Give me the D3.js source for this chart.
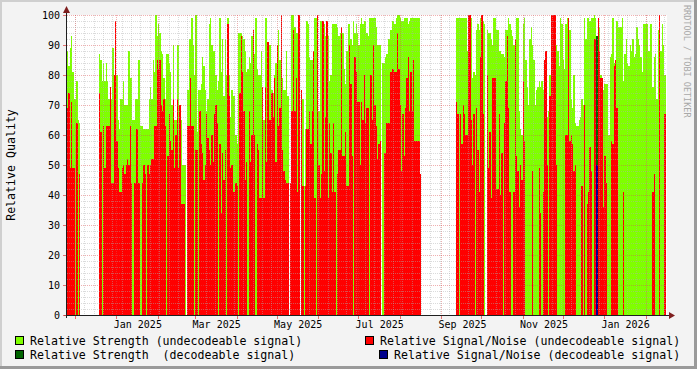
<!DOCTYPE html>
<html>
<head>
<meta charset="utf-8">
<script src="https://cdn.jsdelivr.net/npm/d3@7"></script>
<style>
  body { margin: 0; background: #f3f3f3; }
  svg { display: block; font-family: "DejaVu Sans Mono", monospace; }
</style>
</head>
<body>
<svg id="chart" width="697" height="369"></svg>
<script>
// one value per day, starting at startDay (null = no data)
const startDay = Date.UTC(2024, 10, 25);
const endDay = Date.UTC(2026, 1, 17);

const strength = [
  88, 83, 89, 93, 81, 72, 72, 78, 65, 64,
  null, null, null, null, null, null, null, null, null, null,
  null, null, null, null, 87, 85, 78, 84, 78, 84,
  78, 72, 70, 72, 89, 80, 80, 80, 65, 62,
  72, 72, 78, 70, 70, 70, 88, 79, 79, 65,
  65, 72, 72, 85, 85, 63, 63, 62, 62, 62,
  62, 72, 76, 72, 85, 81, 100, 93, 97, 94,
  88, 87, 79, 72, 87, 87, 84, 81, 70, 90,
  65, 65, 90, 90, 68, 65, 50, 50, 50, null,
  75, 92, 92, 99, 90, 80, 100, 61, 75, 75,
  77, 86, 83, 75, 68, 72, 97, 99, 90, 88,
  88, 80, 75, 78, 99, 81, 92, 73, 92, 80,
  99, 80, 66, 75, 73, 73, 60, 57, 94, 94,
  94, 93, 92, 88, 81, 82, 86, 84, 93, 93,
  87, 99, 82, 80, 80, 88, 76, 65, 99, 99,
  85, 90, 90, 75, 74, 80, 84, 84, 95, 85,
  80, 79, 75, 75, 88, 73, null, 44, 100, 100,
  96, 94, 94, 100, null, 72, 72, 43, 62, 98,
  97, 86, 85, 85, 85, 99, 99, 99, 68, 98,
  98, 97, 97, 93, 93, 93, 78, 80, 97, 97,
  97, 97, 96, 93, 94, 94, 94, 82, 77, 88,
  97, 97, 92, 90, 98, 94, 97, 94, 90, 97,
  99, 97, 98, 98, 94, 93, 99, 99, 99, 99,
  99, 96, 90, 90, 90, null, 84, 84, 86, 87,
  92, 92, 95, 98, 98, 97, 99, 100, 100, 99,
  98, 98, 99, 99, 99, 97, 98, 99, 99, 99,
  99, 99, 99, 99, 47, null, null, null, null, null,
  null, null, null, null, null, null, null, null, null, null,
  null, null, null, null, null, null, null, null, null, null,
  null, 99, 99, 99, 99, 99, 99, 99, 99, 88,
  99, 99, 99, 79, 81, 80, 95, 97, 95, 99,
  99, 98, 97, null, 95, 94, 94, 92, 90, 99,
  99, 95, 95, 88, 88, 87, 87, 86, 95, 95,
  99, 97, 95, 93, 90, 89, 99, 99, 68, 62,
  60, 97, 99, 85, 76, 70, 92, 96, 90, 85,
  70, 75, 76, 78, 76, 78, 75, 70, 72, 66,
  68, 80, 100, 100, 100, 100, 90, 88, 83, 99,
  97, 85, 82, 97, 99, 99, 95, 72, 69, 80,
  64, 63, 63, 65, 66, 72, 70, 99, 92, 99,
  99, 98, 99, 99, 100, 99, null, 97, 96, 80,
  78, 75, 77, 77, 77, 60, 86, 87, 99, 84,
  80, 98, 96, 96, 96, 99, 78, 87, 92, 84,
  83, 90, 88, 92, 86, 87, 96, 92, 90, 86,
  81, 97, 97, 97, 97, 88, 97, 97, 76, 86,
  87, 72, 95, 99, 88, 97, 90, 80
];

const signalNoise = [
  69, 74, 49, 71, 49, 49, 0, 64, 0, 47,
  null, null, null, null, null, null, null, null, null, null,
  null, null, null, null, 74, 61, 0, 63, 49, 63,
  63, 63, 76, 44, 44, 80, 98, 58, 49, 41,
  41, 49, 50, 47, 50, 52, 50, 63, 44, 0,
  44, 44, 62, 44, 44, 0, 44, 50, 47, 0,
  50, 47, 50, 52, 52, 63, 63, 85, 82, 85,
  70, 68, 72, 63, 0, 53, 67, 58, 55, 72,
  49, 60, 72, 49, 70, 37, 37, 37, 0, null,
  63, 63, 79, 63, 63, 0, 55, 55, 0, 68,
  57, 54, 45, 50, 67, 59, 55, 50, 60, 51,
  67, 70, 64, 0, 57, 34, 54, 45, 55, 0,
  97, 73, 49, 50, 41, 41, 44, 43, 0, 74,
  93, 81, 68, 45, 51, 0, 68, 51, 60, 95,
  60, 0, 57, 55, 39, 39, 76, 39, 76, 51,
  91, 65, 65, 74, 66, 79, 51, 90, 63, 69,
  100, 55, 48, 45, 44, 44, null, 44, 68, 95,
  68, 79, 41, 100, null, 75, 43, 0, 43, 62,
  62, 68, 57, 68, 88, 39, 0, 100, 50, 39,
  47, 98, 48, 66, 98, 39, 64, 54, 41, 64,
  41, 0, 47, 55, 55, 96, 53, 53, 61, 43,
  43, 90, 77, 53, 0, 86, 81, 71, 71, 50,
  71, 65, 80, 64, 69, 69, 0, 80, 65, 90,
  70, 63, 52, 57, 58, null, 0, 54, 54, 64,
  64, 64, 81, 82, 82, 81, 81, 94, 82, 70,
  48, 67, 53, 69, 79, 86, 68, 81, 68, 85,
  58, 58, 58, 58, 47, null, null, null, null, null,
  null, null, null, null, null, null, null, null, null, null,
  null, null, null, null, null, null, null, null, null, null,
  null, 71, 67, 0, 67, 57, 70, 67, 60, 60,
  100, 100, 65, 50, 67, 0, 69, 55, 41, 86,
  100, 67, 0, null, 80, 49, 61, 39, 79, 79,
  79, 42, 42, 67, 40, 54, 0, 64, 78, 93,
  69, 41, 0, 0, 41, 92, 53, 48, 36, 50,
  45, 78, 58, 0, 0, 0, 0, 0, 48, 0,
  0, 0, 0, 49, 34, 0, 41, 85, 88, 50,
  0, 73, 100, 100, 100, 100, 50, 0, 0, 0,
  0, 0, 0, 60, 60, 99, 58, 60, 57, 48,
  50, 0, 0, 0, 0, 43, 0, 70, 0, 37,
  41, 56, 48, 0, 92, 92, null, 99, 88, 79,
  79, 36, 53, 44, 0, 0, 0, 58, 57, 83,
  85, 69, 0, 0, 0, 0, 41, 0, 0, 0,
  0, 0, 0, 0, 0, 0, 0, 0, 0, 0,
  0, 0, 0, 0, 0, 0, 0, 0, 41, 47,
  0, 0, 0, 100, 0, 0, 0, 67
];

// decodeable signal: only a single day had any
const decodeDays = [396];
const strengthDec = [93];
const signalNoiseDec = [50];

const tickLabels = ["Jan 2025", "Mar 2025", "May 2025", "Jul 2025", "Sep 2025", "Nov 2025", "Jan 2026"];
const yTicks = [0, 10, 20, 30, 40, 50, 60, 70, 80, 90, 100];

const legend = [
  {label: "Relative Strength (undecodeable signal)", color: "#7fff00", x: 15, row: 0},
  {label: "Relative Signal/Noise (undecodeable signal)", color: "#ff0000", x: 365, row: 0},
  {label: "Relative Strength  (decodeable signal)", color: "#006400", x: 15, row: 1},
  {label: "Relative Signal/Noise (decodeable signal)", color: "#00008b", x: 379, row: 1}
];

const svg = d3.select("#chart");
const W = 697, H = 369;
const pL = 67, pR = 667, pT = 15, pB = 315;

const dayMs = 86400000;
const x = d3.scaleUtc().domain([startDay, endDay]).range([pL, pR]);
const y = d3.scaleLinear().domain([0, 100]).range([pB, pT]);
const dayX = i => Math.round(x(startDay + i * dayMs));

// background + frame
svg.append("rect").attr("width", W).attr("height", H).attr("fill", "#f3f3f3");
svg.append("rect").attr("x", 0).attr("y", 0).attr("width", W).attr("height", 2).attr("fill", "#cfcfcf");
svg.append("rect").attr("x", 0).attr("y", 0).attr("width", 2).attr("height", H).attr("fill", "#cfcfcf");
svg.append("rect").attr("x", 0).attr("y", H - 3).attr("width", W).attr("height", 3).attr("fill", "#9a9a9a");
svg.append("rect").attr("x", W - 3).attr("y", 0).attr("width", 3).attr("height", H).attr("fill", "#9a9a9a");

// canvas
svg.append("rect").attr("x", pL).attr("y", pT).attr("width", pR - pL).attr("height", pB - pT).attr("fill", "#fff");

function bars(values, color, daysIdx) {
  const data = values.map((v, i) => ({d: daysIdx ? daysIdx[i] : i, v}))
    .filter(p => p.v != null && p.v > 0);
  svg.append("g").attr("shape-rendering", "crispEdges")
    .selectAll("rect").data(data).join("rect")
    .attr("x", p => dayX(p.d))
    .attr("width", p => Math.max(1, dayX(p.d + 1) - dayX(p.d)))
    .attr("y", p => Math.round(y(p.v)))
    .attr("height", p => pB - Math.round(y(p.v)))
    .attr("fill", color);
}

bars(strength, "#7fff00");
bars(signalNoise, "#ff0000");
bars(strengthDec, "#006400", decodeDays);
bars(signalNoiseDec, "#00008b", decodeDays);

// grid on top, faint dotted
const grid = svg.append("g").attr("shape-rendering", "crispEdges").attr("stroke-dasharray", "1,1");
const minorCol = "rgba(175,175,175,0.45)", majorCol = "rgba(222,79,79,0.45)";

const sundays = d3.utcSunday.range(startDay, endDay);
grid.selectAll("line.vmin").data(sundays).join("line")
  .attr("x1", d => Math.round(x(d)) + 0.5).attr("x2", d => Math.round(x(d)) + 0.5)
  .attr("y1", pT).attr("y2", pB).attr("stroke", minorCol);
const months = d3.utcMonth.range(startDay, endDay);
grid.selectAll("line.vmaj").data(months).join("line")
  .attr("x1", d => Math.round(x(d)) + 0.5).attr("x2", d => Math.round(x(d)) + 0.5)
  .attr("y1", pT).attr("y2", pB).attr("stroke", majorCol);

const minorY = d3.range(2, 100, 2).filter(v => v % 10 !== 0);
grid.selectAll("line.hmin").data(minorY).join("line")
  .attr("x1", pL).attr("x2", pR)
  .attr("y1", v => Math.round(y(v)) + 0.5).attr("y2", v => Math.round(y(v)) + 0.5)
  .attr("stroke", minorCol);
grid.selectAll("line.hmaj").data(yTicks.filter(v => v > 0)).join("line")
  .attr("x1", pL).attr("x2", pR)
  .attr("y1", v => Math.round(y(v)) + 0.5).attr("y2", v => Math.round(y(v)) + 0.5)
  .attr("stroke", majorCol);

// axes
const axes = svg.append("g").attr("shape-rendering", "crispEdges");
axes.append("line").attr("x1", pL - 0.5).attr("x2", pL - 0.5).attr("y1", pB + 3).attr("y2", 10).attr("stroke", "#1f1f1f");
axes.append("line").attr("x1", pL - 3).attr("x2", pR + 3).attr("y1", pB + 0.5).attr("y2", pB + 0.5).attr("stroke", "#1f1f1f");
axes.selectAll("line.mt").data(months).join("line")
  .attr("x1", d => Math.round(x(d)) + 0.5).attr("x2", d => Math.round(x(d)) + 0.5)
  .attr("y1", pB + 1).attr("y2", pB + 4).attr("stroke", "rgba(222,79,79,0.8)");
axes.selectAll("line.yt").data(yTicks).join("line")
  .attr("x1", pL - 4).attr("x2", pL - 1)
  .attr("y1", v => Math.round(y(v)) + 0.5).attr("y2", v => Math.round(y(v)) + 0.5)
  .attr("stroke", "rgba(222,79,79,0.8)");
svg.append("path").attr("d", `M${pL - 4},${pT - 2} L${pL + 3},${pT - 2} L${pL - 0.5},${pT - 9} Z`).attr("fill", "#7f1f1f");
svg.append("path").attr("d", `M${pR + 2},${pB - 3} L${pR + 2},${pB + 4} L${pR + 8},${pB + 0.5} Z`).attr("fill", "#7f1f1f");

// y tick labels
svg.append("g").selectAll("text").data(yTicks).join("text")
  .attr("x", 60).attr("y", v => y(v) + 4)
  .attr("text-anchor", "end").attr("font-size", "10px").attr("fill", "#000")
  .text(d => d);

// x tick labels, centred mid-month
const parseMonth = d3.utcParse("%b %Y");
svg.append("g").selectAll("text").data(tickLabels).join("text")
  .attr("x", d => x(d3.utcDay.offset(parseMonth(d), 16)))
  .attr("y", 328).attr("text-anchor", "middle").attr("font-size", "10px").attr("fill", "#000")
  .text(d => d);

// y title
svg.append("text").attr("transform", "translate(15,165) rotate(-90)")
  .attr("text-anchor", "middle").attr("font-size", "11.6px").attr("fill", "#000")
  .text("Relative Quality");

// watermark
svg.append("text").attr("transform", "translate(684,5) rotate(90)")
  .attr("font-size", "8.5px").attr("fill", "#a8a8a8")
  .text("RRDTOOL / TOBI OETIKER");

// legend
const lg = svg.append("g");
lg.selectAll("rect").data(legend).join("rect")
  .attr("x", d => d.x + 0.5).attr("y", d => 336.5 + d.row * 14)
  .attr("width", 8).attr("height", 8)
  .attr("fill", d => d.color).attr("stroke", "#000").attr("shape-rendering", "crispEdges");
lg.selectAll("text").data(legend).join("text")
  .attr("x", d => d.x + 15).attr("y", d => 345 + d.row * 14)
  .attr("font-size", "11.6px").attr("fill", "#000")
  .attr("xml:space", "preserve").style("white-space", "pre")
  .text(d => d.label);
</script>
</body>
</html>
